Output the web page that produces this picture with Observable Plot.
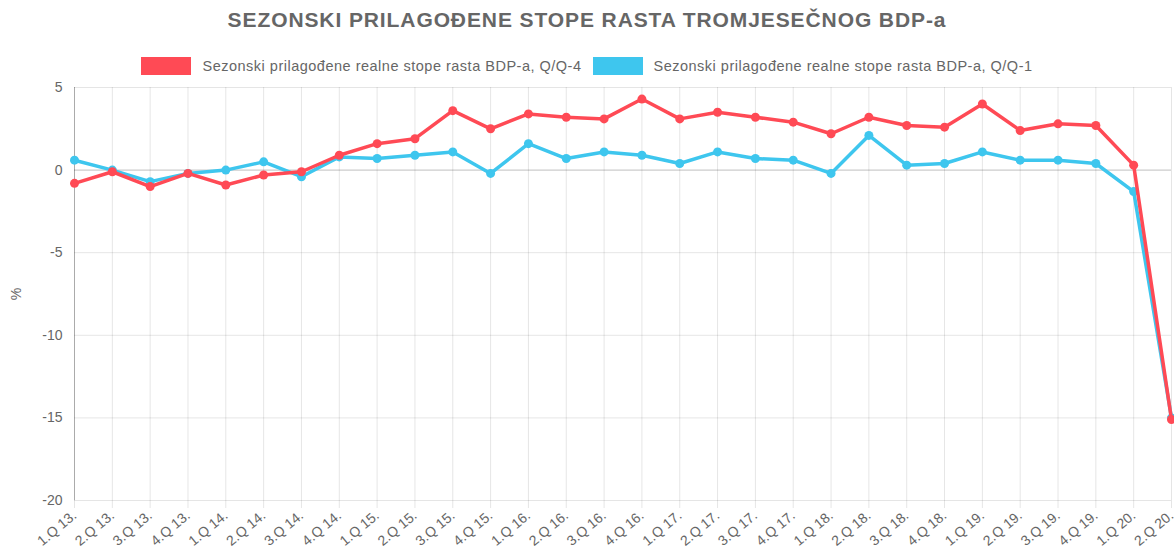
<!DOCTYPE html>
<html>
<head>
<meta charset="utf-8">
<script src="https://cdn.jsdelivr.net/npm/d3@7"></script>
<script src="https://cdn.jsdelivr.net/npm/@observablehq/plot@0.6"></script>
<style>
  html, body { margin: 0; padding: 0; background: #fff; }
  body { width: 1174px; height: 556px; overflow: hidden; font-family: "Liberation Sans", Arial, Helvetica, sans-serif; }
  #title { height: 40px; line-height: 40px; text-align: center; font-weight: bold; font-size: 21px; letter-spacing: 0.9px; color: #666; }
  #legend { height: 40px; box-sizing: border-box; padding-top: 17px; display: flex; justify-content: center; gap: 11px; font-size: 14.5px; letter-spacing: 0.5px; color: #666; }
  .item { display: flex; align-items: center; height: 18px; gap: 11px; }
  .sw { width: 50px; height: 18px; }
  svg { display: block; }
</style>
</head>
<body>
<div id="title">SEZONSKI PRILAGOĐENE STOPE RASTA TROMJESEČNOG BDP-a</div>
<div id="legend"></div>
<div id="chart"></div>
<script>
const categories = [
  "1.Q 13.","2.Q 13.","3.Q 13.","4.Q 13.",
  "1.Q 14.","2.Q 14.","3.Q 14.","4.Q 14.",
  "1.Q 15.","2.Q 15.","3.Q 15.","4.Q 15.",
  "1.Q 16.","2.Q 16.","3.Q 16.","4.Q 16.",
  "1.Q 17.","2.Q 17.","3.Q 17.","4.Q 17.",
  "1.Q 18.","2.Q 18.","3.Q 18.","4.Q 18.",
  "1.Q 19.","2.Q 19.","3.Q 19.","4.Q 19.",
  "1.Q 20.","2.Q 20."
];
const seriesNames = [
  "Sezonski prilagođene realne stope rasta BDP-a, Q/Q-4",
  "Sezonski prilagođene realne stope rasta BDP-a, Q/Q-1"
];
const qq4 = [-0.8,-0.1,-1.0,-0.2, -0.9,-0.3,-0.1,0.9, 1.6,1.9,3.6,2.5, 3.4,3.2,3.1,4.3, 3.1,3.5,3.2,2.9, 2.2,3.2,2.7,2.6, 4.0,2.4,2.8,2.7, 0.3,-15.1];
const qq1 = [0.6,0.0,-0.7,-0.2, 0.0,0.5,-0.4,0.8, 0.7,0.9,1.1,-0.2, 1.6,0.7,1.1,0.9, 0.4,1.1,0.7,0.6, -0.2,2.1,0.3,0.4, 1.1,0.6,0.6,0.4, -1.3,-15.0];
const yTicks = [5, 0, -5, -10, -15, -20];
const colors = ["#ff4a55", "#3ec6ee"];

const legend = document.getElementById("legend");
seriesNames.forEach((n, i) => {
  const it = document.createElement("div");
  it.className = "item";
  it.innerHTML = `<div class="sw" style="background:${colors[i]}"></div><span>${n}</span>`;
  legend.appendChild(it);
});

const d4 = categories.map((c, i) => ({cat: c, v: qq4[i]}));
const d1 = categories.map((c, i) => ({cat: c, v: qq1[i]}));

const chart = Plot.plot({
  width: 1174,
  height: 476,
  marginLeft: 74,
  marginRight: 3,
  marginTop: 7,
  marginBottom: 56,
  style: {fontFamily: '"Liberation Sans", Arial, Helvetica, sans-serif', fontSize: "13px", color: "#666", background: "#fff", overflow: "visible"},
  x: {type: "point", domain: categories, padding: 0, round: false},
  y: {domain: [-20, 5]},
  marks: [
    Plot.ruleX(categories, {x: d => d, y1: -20, y2: 5, stroke: "#000", strokeOpacity: 0.1}),
    Plot.ruleY(yTicks.filter(t => t !== 0), {y: d => d, stroke: "#000", strokeOpacity: 0.1}),
    Plot.ruleY([0], {stroke: "#000", strokeOpacity: 0.25}),
    Plot.ruleX([categories[0]], {y1: -20, y2: 5, stroke: "#000", strokeOpacity: 0.25}),
    Plot.axisY({ticks: yTicks, tickSize: 0, tickPadding: 12, tickFormat: d => String(d), fontSize: 14, fill: "#666",
      label: "%", labelAnchor: "center", labelArrow: "none", labelOffset: 63}),
    Plot.axisX({tickSize: 8, stroke: "#000", strokeOpacity: 0.1, tickRotate: -40, tickPadding: 5, fontSize: 14, fill: "#666", label: null}),
    Plot.line(d1, {x: "cat", y: "v", stroke: colors[1], strokeWidth: 3.5}),
    Plot.dot(d1, {x: "cat", y: "v", fill: colors[1], r: 4.5}),
    Plot.line(d4, {x: "cat", y: "v", stroke: colors[0], strokeWidth: 3.5}),
    Plot.dot(d4, {x: "cat", y: "v", fill: colors[0], r: 4.5})
  ]
});
document.getElementById("chart").appendChild(chart);
</script>
</body>
</html>
